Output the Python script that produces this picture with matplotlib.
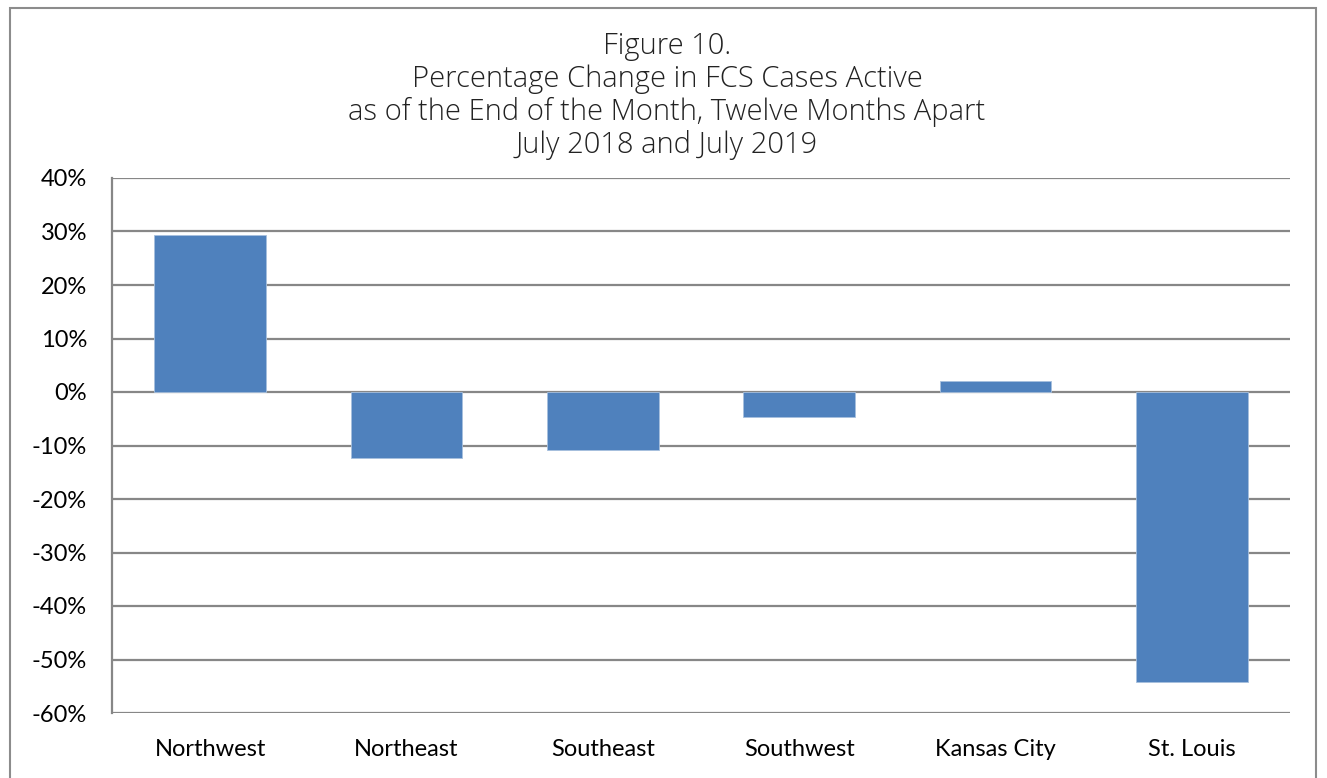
import numpy as np
import matplotlib
matplotlib.use('Agg')
import matplotlib.pyplot as plt
from matplotlib.patches import Rectangle

regions = ['Northwest', 'Northeast', 'Southeast', 'Southwest', 'Kansas City', 'St. Louis']
pct_change = [29.4, -12.3, -10.8, -4.6, 2.1, -54.2]
yticks = [-60, -50, -40, -30, -20, -10, 0, 10, 20, 30, 40]

W, H = 1327, 778
fig = plt.figure(figsize=(W / 100, H / 100), dpi=100)
ax = fig.add_axes([112 / W, 1 - 713 / H, (1290 - 112) / W, (713 - 178) / H])

# outer chart border (runs off the bottom edge like the source)
fig.patches.append(Rectangle((10 / W, -0.05), (1316 - 10) / W, 1 - 8 / H + 0.05,
                             transform=fig.transFigure, fill=False,
                             edgecolor='#8c8c8c', lw=1.5, clip_on=False))

x = np.arange(len(regions))
ax.bar(x, pct_change, 0.57, color='#4f81bd', edgecolor='#a7c0de', lw=0.6, zorder=3)

ax.set_xlim(-0.5, len(regions) - 0.5)
ax.set_ylim(-60, 40)
ax.set_yticks(yticks)
ax.set_yticklabels([f'{v}%' for v in yticks], fontsize=17, family='Lato')
ax.set_xticks(x)
ax.set_xticklabels(regions, fontsize=17, family='Lato')
ax.tick_params(axis='both', length=0, colors='#000000')
ax.tick_params(axis='y', pad=18)
ax.tick_params(axis='x', pad=19)
ax.grid(axis='y', color='#878787', lw=1.6, zorder=1)
for s in ['top', 'right', 'bottom']:
    ax.spines[s].set_visible(False)
ax.spines['left'].set_color('#878787')
ax.spines['left'].set_linewidth(1.6)

title_lines = ['Figure 10.',
               'Percentage Change in FCS Cases Active',
               'as of the End of the Month, Twelve Months Apart',
               'July 2018 and July 2019']
for i, t in enumerate(title_lines):
    fig.text(667 / W, 1 - (46 + 33 * i) / H, t, ha='center', va='center',
             fontsize=21, family='Open Sans', fontweight='light', color='#222222')

plt.savefig('out.png', dpi=100)
